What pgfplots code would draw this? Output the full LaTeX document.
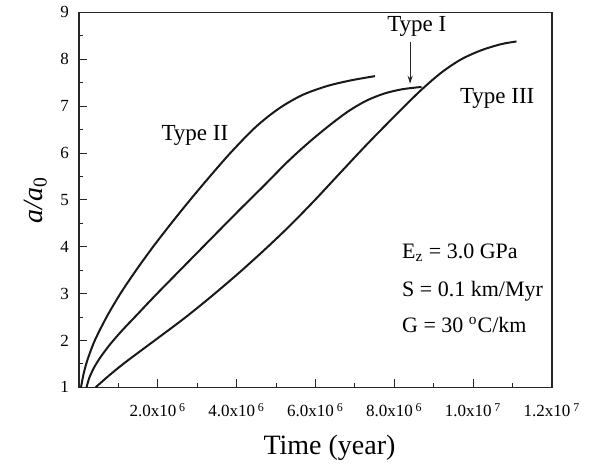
\documentclass[border=0pt]{standalone}
\usepackage{fontspec}
\setmainfont{Liberation Serif}
\usepackage{pgfplots}
\pgfplotsset{compat=1.18}
\usetikzlibrary{arrows.meta}

\begin{document}
\begin{tikzpicture}
\begin{axis}[name=ax, scale only axis, width=236.5pt, height=187.5pt,
  xmin=0, xmax=12, ymin=1, ymax=9, clip mode=individual,
  xtick={2,4,...,12},
  xticklabels={2.0x10\,\textsuperscript{6},4.0x10\,\textsuperscript{6},6.0x10\,\textsuperscript{6},
               8.0x10\,\textsuperscript{6},1.0x10\,\textsuperscript{7},1.2x10\,\textsuperscript{7}},
  ytick={1,...,9},
  minor xtick={1,3,5,7,9,11}, minor ytick={1.5,2.5,...,8.5},
  tick align=inside, tick pos=left,
  major tick length=4pt, minor tick length=2pt,
  axis line style={line width=0.6pt, black!85},
  every tick/.style={black!85, line width=0.5pt},
  every minor tick/.style={black!85, line width=0.5pt},
  /pgf/number format/assume math mode=true,
  tick label style={font=\fontsize{8.5}{10}\selectfont},
  xticklabel shift=4.5pt, yticklabel shift=1.5pt,
  xlabel={Time (year)}, ylabel={\textit{a/a}\textsubscript{0}},
  label style={font=\fontsize{14}{16}\selectfont},
  xlabel style={xshift=7pt, yshift=-2pt},
]
% Type II
\addplot[black!90, line width=1pt, smooth] coordinates {
  (0.05,1.00) (0.12,1.30) (0.22,1.60) (0.40,2.00) (0.70,2.50) (1.05,3.00)
  (1.45,3.50) (1.88,4.00) (2.34,4.50) (2.82,5.00) (3.32,5.50) (3.84,6.00)
  (4.40,6.49) (4.80,6.78) (5.20,7.02) (5.70,7.25) (6.30,7.43) (6.90,7.55)
  (7.51,7.64)};
% Type I
\addplot[black!90, line width=1pt, smooth] coordinates {
  (0.19,1.00) (0.26,1.20) (0.38,1.42) (0.55,1.65) (0.80,1.93) (1.10,2.22)
  (1.45,2.53) (1.90,2.93) (2.40,3.36) (2.95,3.83) (3.50,4.30) (4.10,4.81)
  (4.70,5.31) (5.30,5.82) (5.85,6.24) (6.37,6.60) (6.85,6.90) (7.30,7.12)
  (7.75,7.27) (8.20,7.36) (8.69,7.41)};
% Type III
\addplot[black!90, line width=1pt, smooth] coordinates {
  (0.42,1.00) (0.80,1.28) (1.20,1.55) (1.95,2.02) (2.65,2.46) (3.30,2.90)
  (4.00,3.40) (4.70,3.93) (5.35,4.45) (6.00,5.01) (6.62,5.57) (7.30,6.18)
  (8.00,6.78) (8.65,7.32) (9.20,7.72) (9.70,8.00) (10.20,8.19) (10.70,8.32)
  (11.10,8.38)};

\node[font=\fontsize{11.5}{13}\selectfont] at (axis cs:2.94,6.37) {Type II};
\node[font=\fontsize{11.5}{13}\selectfont] at (axis cs:8.57,8.70) {Type I};
\node[font=\fontsize{11.5}{13}\selectfont] at (axis cs:10.61,7.17) {Type III};
\draw[-{Stealth[length=4pt,width=2.6pt]}, line width=0.5pt, black!85]
  (axis cs:8.40,8.36) -- (axis cs:8.40,7.48);
\node[anchor=base west, font=\fontsize{11}{13}\selectfont] at (axis cs:8.02,3.76)
  {E\textsubscript{z} = 3.0 GPa};
\node[anchor=base west, font=\fontsize{11}{13}\selectfont] at (axis cs:8.02,2.93)
  {S = 0.1 km/Myr};
\node[anchor=base west, font=\fontsize{11}{13}\selectfont] at (axis cs:8.02,2.18)
  {G = 30 \textsuperscript{o}C/km};
\end{axis}
\path (ax.south west) ++(-39.5pt,-36pt) rectangle ++(294.5pt,229.5pt);
\end{tikzpicture}
\end{document}
